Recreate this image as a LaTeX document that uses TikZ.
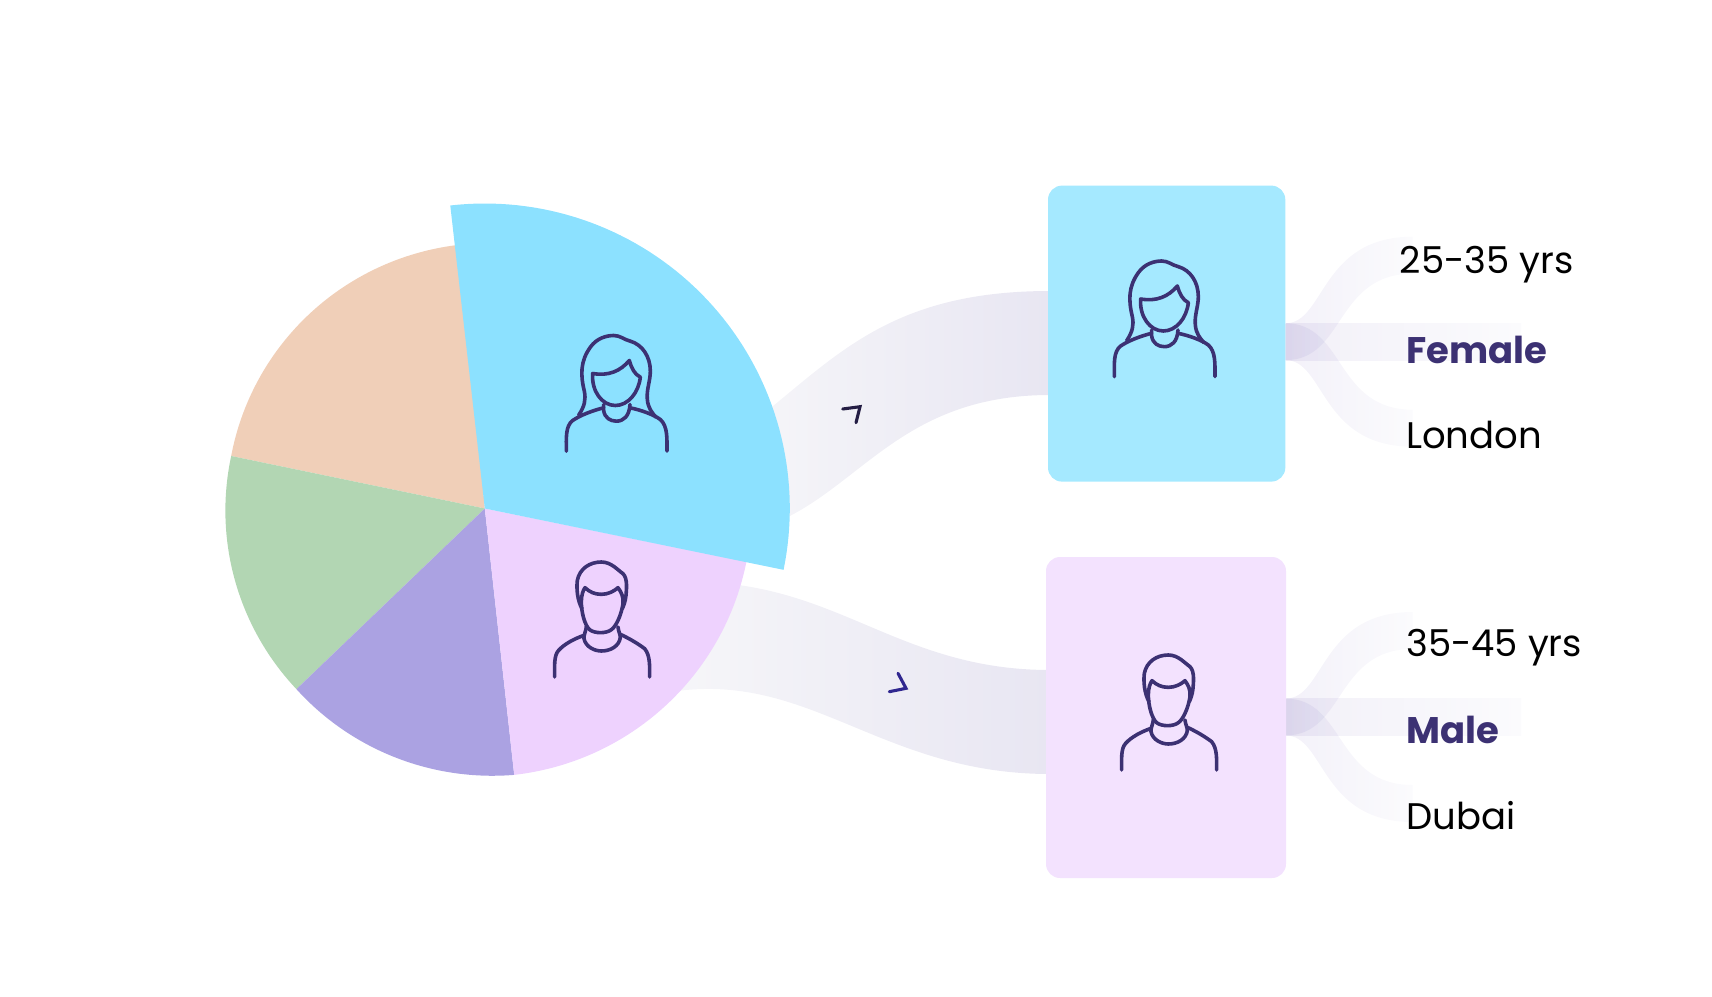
\documentclass[tikz,border=0pt]{standalone}
\usepackage{fontspec}
\setmainfont{Poppins}
\definecolor{navy}{HTML}{3C3173}
\definecolor{cBlue}{HTML}{8CE1FF}
\definecolor{cPeach}{HTML}{F0CFB8}
\definecolor{cGreen}{HTML}{B2D6B3}
\definecolor{cPurple}{HTML}{ABA2E2}
\definecolor{cPink}{HTML}{EED2FE}
\definecolor{boxBlue}{HTML}{A5E9FF}
\definecolor{boxPink}{HTML}{F3E2FE}
\tikzset{
  iconline/.style={draw=navy,line width=3.6pt,line cap=round,line join=round,fill=none},
  personbox/.style={rounded corners=14pt,minimum width=#1,inner sep=0pt,outer sep=0pt},
  lbl/.style={anchor=base west,inner sep=0pt,font=\fontsize{37}{44}\selectfont,text=black},
  lblb/.style={anchor=base west,inner sep=0pt,font=\fontsize{37}{44}\selectfont\bfseries,text=navy},
  chev/.style={line width=3.1pt,line cap=round,line join=miter}
}
\newcommand{\pieslice}[5]{% colour, a1, r1, a2, r2
  \fill[#1] (pc) -- plot[domain=#2:#4,samples=70,variable=\t]
   ({484.8+(#3+(#5-#3)*(\t-#2)/(#4-#2))*cos(\t)},{508.5-(#3+(#5-#3)*(\t-#2)/(#4-#2))*sin(\t)}) -- cycle;}
% icons traced in a 3x pixel grid
\newcommand{\womanicon}[2]{%
 \begin{scope}[shift={(#1,#2)},x=0.3333pt,y=-0.3333pt]
  \draw[iconline] (80,272) .. controls (98,245) and (102,225) .. (97,200) .. controls (85,150) and (85,110) .. (115,68) .. controls (135,40) and (165,33) .. (185,33) .. controls (205,33) and (215,45) .. (235,50) .. controls (270,60) and (295,95) .. (295,140) .. controls (295,170) and (283,195) .. (286,225) .. controls (288,250) and (300,265) .. (312,278);
  \draw[iconline] (122,147) .. controls (170,155) and (205,140) .. (232,108) .. controls (238,130) and (248,150) .. (265,158) .. controls (260,205) and (228,243) .. (190,243) .. controls (150,243) and (118,200) .. (122,147) -- cycle;
  \draw[iconline] (155,240) -- (155,258) .. controls (158,280) and (175,290) .. (193,290) .. controls (215,290) and (232,275) .. (234,240);
  \draw[iconline] (43,380) .. controls (43,340) and (40,305) .. (62,288) .. controls (85,272) and (125,257) .. (155,250);
  \draw[iconline] (345,380) .. controls (345,340) and (347,305) .. (325,285) .. controls (305,270) and (265,256) .. (234,250);
 \end{scope}}
\newcommand{\manicon}[2]{%
 \begin{scope}[shift={(#1,#2)},x=0.3333pt,y=-0.3333pt]
  \draw[iconline] (147,185) .. controls (133,160) and (130,125) .. (133,100) .. controls (140,65) and (170,45) .. (205,45) .. controls (235,45) and (255,70) .. (270,80) .. controls (285,95) and (280,130) .. (279,145) .. controls (277,165) and (272,175) .. (268,185);
  \draw[iconline] (145,165) .. controls (145,145) and (150,130) .. (156,122) .. controls (170,135) and (185,142) .. (205,142) .. controls (225,142) and (243,133) .. (255,122) .. controls (265,135) and (272,150) .. (270,170) .. controls (265,205) and (248,240) .. (235,248) .. controls (220,260) and (185,260) .. (170,248) .. controls (155,235) and (145,195) .. (145,165) -- cycle;
  \draw[iconline] (160,238) .. controls (160,250) and (152,262) .. (153,275) .. controls (158,300) and (185,312) .. (205,312) .. controls (232,312) and (258,298) .. (262,272) .. controls (262,262) and (256,252) .. (255,240);
  \draw[iconline] (65,390) .. controls (65,360) and (62,325) .. (77,310) .. controls (95,290) and (125,275) .. (153,265);
  \draw[iconline] (350,390) .. controls (350,360) and (352,325) .. (335,305) .. controls (315,290) and (290,275) .. (262,262);
 \end{scope}}
\newcommand{\fanbands}[1]{% y centre of the fan
 \begin{scope}[shift={(0,#1)},blend mode=multiply]
  \shade[left color=fanA,right color=fanD] (1285.6,-18.4) -- (1521,-18.4) -- (1521,18.4) -- (1285.6,18.4) -- cycle;
  \shade[left color=fanB,right color=fanC] (1285.6,-18.4) .. controls (1325,-18.4) and (1320,-105) .. (1412.7,-105) -- (1412.7,-68) .. controls (1335,-68) and (1345,18.4) .. (1285.6,18.4) -- cycle;
  \shade[left color=fanB,right color=fanC] (1285.6,18.4) .. controls (1325,18.4) and (1320,105) .. (1412.7,105) -- (1412.7,68) .. controls (1335,68) and (1345,-18.4) .. (1285.6,-18.4) -- cycle;
 \end{scope}}
\definecolor{fanA}{HTML}{F2F0F8}
\definecolor{fanB}{HTML}{F3F1F9}
\definecolor{fanC}{HTML}{FBFBFD}
\definecolor{fanD}{HTML}{FBFBFD}
\definecolor{bandL}{HTML}{F6F6F9}
\definecolor{bandR}{HTML}{E8E6F2}
\begin{document}
\begin{tikzpicture}[x=1pt,y=-1pt]
\useasboundingbox (0,0) rectangle (1712,996);
\coordinate (pc) at (484.8,508.5);
% bands pie to boxes
\shade[left color=bandL,right color=bandR] (740,432) .. controls (830,365) and (880,291) .. (1050,291) -- (1050,395) .. controls (900,395) and (860,490) .. (770,525) -- cycle;
\shade[left color=bandL,right color=bandR] (700,582) .. controls (840,585) and (900,670) .. (1050,670) -- (1050,774) .. controls (880,774) and (810,670) .. (670,692) -- cycle;
% fans
\fanbands{341.7}
\fanbands{717}
% pie
\pieslice{cPeach}{168.3}{259}{95}{265}
\pieslice{cGreen}{223.8}{261}{168.3}{259}
\pieslice{cPurple}{276.3}{268}{223.8}{261}
\pieslice{cPink}{348.5}{267}{276.3}{268}
\pieslice{cBlue}{96.5}{305}{-11.6}{305}
% boxes
\node[personbox=237.3pt,fill=boxBlue,minimum height=296pt,anchor=north west] (boxF) at (1048,185.6) {};
\node[personbox=240pt,fill=boxPink,minimum height=321pt,anchor=north west] (boxM) at (1046,557) {};
% icons
\womanicon{1100}{250}
\womanicon{552}{324.5}
\manicon{1100}{640}
\manicon{533}{547}
% chevrons
\draw[chev,draw=black!30!navy!85!black] (842.7,409) -- (860,406.7) -- (856,422.7);
\draw[chev,draw=navy!80!blue] (898,673.3) -- (906,688.3) -- (889.3,691.7);
% labels
\node[lbl] (t1) at (1399.6,273) {25-35 yrs};
\node[lblb] (t2) at (1406,363) {Female};
\node[lbl] (t3) at (1406,448) {London};
\node[lbl] (t4) at (1406,656) {35-45 yrs};
\node[lblb] (t5) at (1406,743.7) {Male};
\node[lbl] (t6) at (1406,829) {Dubai};
\end{tikzpicture}
\end{document}
